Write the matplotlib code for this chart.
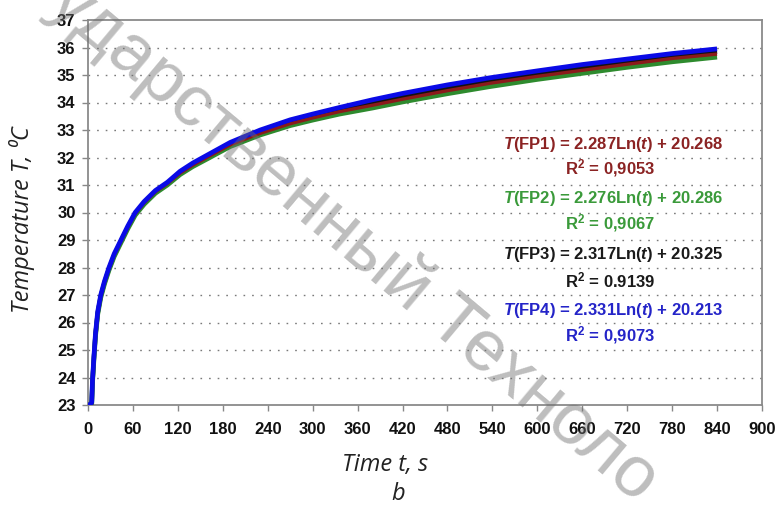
import matplotlib
matplotlib.use("Agg")
import matplotlib.pyplot as plt
from matplotlib import font_manager

names = {f.name for f in font_manager.fontManager.ttflist}
if "Liberation Sans Narrow" in names:
    NUM_FAMILY = "Liberation Sans Narrow"
    NUM_SIZE = 13.5
else:
    NUM_FAMILY = "Liberation Sans"
    NUM_SIZE = 12

plt.rcParams["mathtext.fontset"] = "custom"
plt.rcParams["mathtext.rm"] = NUM_FAMILY + ":bold"
plt.rcParams["mathtext.bf"] = NUM_FAMILY + ":bold"
plt.rcParams["mathtext.it"] = NUM_FAMILY + ":bold:italic"

# ---------------- data ----------------
time_s = [0, 3, 5, 6, 8, 10, 13, 17, 22, 28, 35, 44, 53, 63, 75, 90, 106, 123,
          140, 160, 190, 230, 270, 300, 336, 380, 420, 480, 537, 600, 660, 720,
          780, 840]
fp1 = [23.0, 23.0, 23.05, 23.85, 24.75, 25.55, 26.35, 26.95, 27.45, 27.95, 28.45,
       28.95, 29.45, 29.95, 30.35, 30.75, 31.05, 31.43, 31.72, 32.02, 32.46, 32.88,
       33.23, 33.44, 33.67, 33.9, 34.12, 34.43, 34.7, 34.95, 35.17, 35.39, 35.6, 35.76]
fp2 = [23.0, 23.0, 23.05, 23.8, 24.7, 25.5, 26.3, 26.9, 27.4, 27.9, 28.4, 28.9,
       29.4, 29.9, 30.3, 30.7, 31.0, 31.38, 31.67, 31.96, 32.4, 32.82, 33.16, 33.36,
       33.58, 33.8, 34.02, 34.32, 34.58, 34.84, 35.06, 35.28, 35.48, 35.65]
fp3 = [23.0, 23.0, 23.1, 23.85, 24.75, 25.55, 26.35, 26.95, 27.45, 27.95, 28.45,
       28.95, 29.45, 29.95, 30.35, 30.75, 31.05, 31.44, 31.74, 32.03, 32.48, 32.92,
       33.28, 33.5, 33.74, 33.98, 34.22, 34.54, 34.8, 35.05, 35.28, 35.48, 35.68, 35.85]
fp4 = [23.0, 23.0, 23.1, 23.9, 24.8, 25.6, 26.4, 27.0, 27.5, 28.0, 28.5, 29.0,
       29.5, 30.0, 30.4, 30.8, 31.1, 31.5, 31.8, 32.1, 32.55, 33.0, 33.37, 33.58,
       33.82, 34.1, 34.33, 34.64, 34.9, 35.15, 35.38, 35.58, 35.78, 35.95]

x_ticks = list(range(0, 901, 60))
y_ticks = list(range(23, 38))

equations = [r"$\mathit{T}$(FP1) = 2.287Ln($\mathit{t}$) + 20.268",
             r"$\mathit{T}$(FP2) = 2.276Ln($\mathit{t}$) + 20.286",
             r"$\mathit{T}$(FP3) = 2.317Ln($\mathit{t}$) + 20.325",
             r"$\mathit{T}$(FP4) = 2.331Ln($\mathit{t}$) + 20.213"]
r_squared = [r"R$^{\mathrm{2}}$ = 0,9053", r"R$^{\mathrm{2}}$ = 0,9067",
             r"R$^{\mathrm{2}}$ = 0.9139", r"R$^{\mathrm{2}}$ = 0,9073"]

curve_colors = ["#8b1a1a", "#2e8b2e", "#111111", "#0a0ae6"]
text_colors = ["#8b2323", "#3a9a3a", "#1a1a1a", "#2424c8"]

# ---------------- figure ----------------
fig = plt.figure(figsize=(7.78, 5.07), dpi=100)
ax = fig.add_axes([88 / 778, 1 - 405 / 507, 674 / 778, 385 / 507])

ax.plot(time_s, fp3, color=curve_colors[2], lw=3.2, zorder=3, solid_capstyle="butt")
ax.plot(time_s, fp2, color=curve_colors[1], lw=3.4, zorder=4, solid_capstyle="butt")
ax.plot(time_s, fp1, color=curve_colors[0], lw=2.4, zorder=5, solid_capstyle="butt")
ax.plot(time_s, fp4, color=curve_colors[3], lw=3.4, zorder=6, solid_capstyle="butt")

ax.set_xlim(0, 900)
ax.set_ylim(23, 37)
ax.set_xticks(x_ticks)
ax.set_yticks(y_ticks)
ax.set_xticklabels([str(v) for v in x_ticks])
ax.set_yticklabels([str(v) for v in y_ticks])

for lab in ax.get_xticklabels() + ax.get_yticklabels():
    lab.set_fontfamily(NUM_FAMILY)
    lab.set_fontweight("bold")
    lab.set_fontsize(NUM_SIZE)
    lab.set_color("#111111")

ax.tick_params(axis="x", direction="out", length=4, width=1, color="#888888", pad=8)
ax.tick_params(axis="y", direction="out", length=4, width=1, color="#888888", pad=5)

for y in y_ticks[1:-1]:
    ax.axhline(y, color="#7a7a7a", lw=1.0, ls=(0, (1.2, 5)), zorder=1)

for s in ax.spines.values():
    s.set_color("#8a8a8a")
    s.set_linewidth(1.3)

ax.set_ylabel("Temperature T, \u2070C", family=["Open Sans", "DejaVu Sans"],
              style="italic", fontsize=17, color="#222222")
ax.yaxis.set_label_coords((35 - 88) / 674, (405 - 220) / 385)
fig.text(385 / 778, 1 - 465 / 507, "Time t, s", family=["Open Sans", "DejaVu Sans"],
         style="italic", fontsize=17, ha="center", va="center", color="#222222")
fig.text(398 / 778, 1 - 494 / 507, "b", family=["Open Sans", "DejaVu Sans"],
         style="italic", fontsize=17, ha="center", va="center", color="#222222")

eq_y = [144, 198, 255, 310]
r2_y = [168, 223, 280, 335]
for i in range(4):
    fig.text(613 / 778, 1 - eq_y[i] / 507, equations[i], color=text_colors[i],
             family=NUM_FAMILY, fontweight="bold", fontsize=NUM_SIZE,
             ha="center", va="center", zorder=8)
    fig.text(610 / 778, 1 - r2_y[i] / 507, r_squared[i], color=text_colors[i],
             family=NUM_FAMILY, fontweight="bold", fontsize=NUM_SIZE,
             ha="center", va="center", zorder=8)

# watermark
fig.text(46 / 778, 1 - 8 / 507, "ударственный Техноло", transform=fig.transFigure,
         rotation=-40, rotation_mode="anchor", ha="left", va="baseline",
         family="Liberation Sans", fontsize=52, color="#6e6e6e", alpha=0.45,
         zorder=20)

fig.savefig("out.png", dpi=100, facecolor="white")
